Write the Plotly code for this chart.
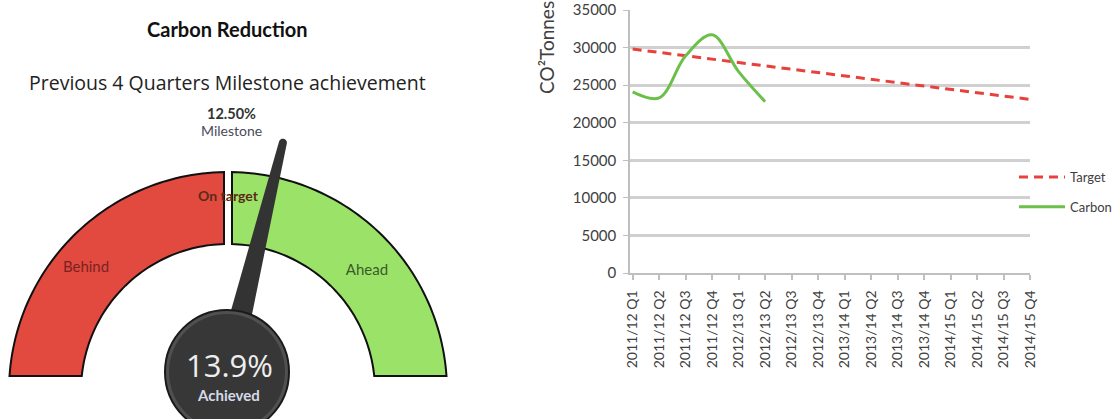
import math
import plotly.graph_objects as go

# ---------------- data ----------------
quarters = ["2011/12 Q1", "2011/12 Q2", "2011/12 Q3", "2011/12 Q4",
            "2012/13 Q1", "2012/13 Q2", "2012/13 Q3", "2012/13 Q4",
            "2013/14 Q1", "2013/14 Q2", "2013/14 Q3", "2013/14 Q4",
            "2014/15 Q1", "2014/15 Q2", "2014/15 Q3", "2014/15 Q4"]
target = [29800, 29350, 28900, 28450, 28000, 27550, 27100, 26650,
          26200, 25750, 25300, 24850, 24400, 23950, 23500, 23100]
carbon = [24100, 23300, 28900, 31700, 26800, 22800]
y_ticks = [0, 5000, 10000, 15000, 20000, 25000, 30000, 35000]

milestone_pct = 12.50
achieved_pct = 13.9
gauge_labels = ["Behind", "On target", "Ahead"]

# ---------------- style / layout constants ----------------
W, H = 1116, 419
FONT = "Lato"
GAUGE_HALF_SPAN = 9.2          # % difference mapped to 90 degrees of needle sweep
CX, CY = 228, 391              # arc centre (pixel units of the gauge panel)
R_OUT, R_IN = 219, 147
BASE_Y = 376
PIVOT = (227, 372)
HUB_R = 62
NEEDLE_LEN = 236

fig = go.Figure()

# ---------------- line chart ----------------
fig.add_trace(go.Scatter(
    x=quarters, y=target, mode="lines", name="Target",
    legendgroup="t",
    line=dict(color="#e8413c", width=3, dash="9px,6px"),
    xaxis="x", yaxis="y"))
fig.add_trace(go.Scatter(
    x=quarters[:len(carbon)], y=carbon, mode="lines", name="Carbon",
    legendgroup="c",
    line=dict(color="#6cc04a", width=3, shape="spline", smoothing=1.0),
    xaxis="x", yaxis="y"))

# ---------------- gauge helpers ----------------
def arc_pts(r, a0, a1, n=60):
    pts = []
    for i in range(n + 1):
        a = a0 + (a1 - a0) * i / n
        pts.append((CX + r * math.cos(a), CY - r * math.sin(a)))
    return pts

def seg_path(x_edge, left):
    if left:
        ao0 = math.pi - math.asin((CY - BASE_Y) / R_OUT)
        ai0 = math.pi - math.asin((CY - BASE_Y) / R_IN)
    else:
        ao0 = math.asin((CY - BASE_Y) / R_OUT)
        ai0 = math.asin((CY - BASE_Y) / R_IN)
    ao1 = math.acos((x_edge - CX) / R_OUT)
    ai1 = math.acos((x_edge - CX) / R_IN)
    pts = arc_pts(R_OUT, ao0, ao1) + arc_pts(R_IN, ai1, ai0)
    return "M " + " L ".join(f"{x:.2f},{y:.2f}" for x, y in pts) + " Z"

shapes = []
shapes.append(dict(type="path", xref="x2", yref="y2", layer="below",
                   path=seg_path(224, True), fillcolor="#e24a3f",
                   line=dict(color="#111111", width=2)))
shapes.append(dict(type="path", xref="x2", yref="y2", layer="below",
                   path=seg_path(232, False), fillcolor="#9be368",
                   line=dict(color="#111111", width=2)))

# needle, angle derived from achieved vs milestone
ang = math.radians((achieved_pct - milestone_pct) / GAUGE_HALF_SPAN * 90.0)
dx, dy = math.sin(ang), -math.cos(ang)
px, py = math.cos(ang), math.sin(ang)
bx, by = PIVOT
tx, ty = bx + NEEDLE_LEN * dx, by + NEEDLE_LEN * dy
wb, wt = 13, 4
npts = [(bx - wb * px, by - wb * py), (tx - wt * px, ty - wt * py)]
for i in range(1, 12):
    a = math.pi * i / 12
    npts.append((tx - wt * math.cos(a) * px + wt * math.sin(a) * dx,
                 ty - wt * math.cos(a) * py + wt * math.sin(a) * dy))
npts += [(tx + wt * px, ty + wt * py), (bx + wb * px, by + wb * py)]
shapes.append(dict(type="path", xref="x2", yref="y2", layer="above",
                   path="M " + " L ".join(f"{x:.2f},{y:.2f}" for x, y in npts) + " Z",
                   fillcolor="#333333", line=dict(width=0)))
# hub
shapes.append(dict(type="circle", xref="x2", yref="y2", layer="above",
                   x0=bx - HUB_R, x1=bx + HUB_R, y0=by - HUB_R, y1=by + HUB_R,
                   fillcolor="#505050", line=dict(color="#1a1a1a", width=2)))
shapes.append(dict(type="circle", xref="x2", yref="y2", layer="above",
                   x0=bx - HUB_R + 4, x1=bx + HUB_R - 4, y0=by - HUB_R + 4, y1=by + HUB_R - 4,
                   fillcolor="#373737", line=dict(width=0)))

# gauge segment labels (as a text trace so the needle sits on top)
fig.add_trace(go.Scatter(
    x=[86, 228, 367], y=[268, 197, 271], mode="text",
    text=["Behind", "<b>On target</b>", "Ahead"],
    textfont=dict(family=FONT, size=[15, 14, 15], color=["#7a2222", "#5a2a18", "#3c5a2c"]),
    showlegend=False, hoverinfo="skip", xaxis="x2", yaxis="y2"))

annotations = [
    dict(x=227, y=29, xref="x2", yref="y2", text="<b>Carbon Reduction</b>", showarrow=False,
         font=dict(family=FONT, size=20, color="#111111"), xanchor="center", yanchor="middle"),
    dict(x=227, y=82, xref="x2", yref="y2", text="Previous 4 Quarters Milestone achievement",
         showarrow=False, font=dict(family="Open Sans", size=19.5, color="#222222"),
         xanchor="center", yanchor="middle"),
    dict(x=231, y=113, xref="x2", yref="y2", text=f"<b>{milestone_pct:.2f}%</b>", showarrow=False,
         font=dict(family=FONT, size=14.5, color="#333333"), xanchor="center", yanchor="middle"),
    dict(x=231, y=130, xref="x2", yref="y2", text="Milestone", showarrow=False,
         font=dict(family=FONT, size=14, color="#4a4a5a"), xanchor="center", yanchor="middle"),
    dict(x=229, y=365, xref="x2", yref="y2", text=f"{achieved_pct:.1f}%", showarrow=False,
         font=dict(family="Open Sans", size=31, color="#eeeeee"), xanchor="center", yanchor="middle"),
    dict(x=228, y=395, xref="x2", yref="y2", text="<b>Achieved</b>", showarrow=False,
         font=dict(family=FONT, size=15, color="#d4dae8"), xanchor="center", yanchor="middle"),
    dict(x=546, y=48, xref="x2", yref="y2", text="CO²Tonnes", showarrow=False, textangle=-90,
         font=dict(family=FONT, size=19, color="#404040"), xanchor="center", yanchor="middle"),
]

fig.update_layout(
    width=W, height=H,
    margin=dict(l=0, r=0, t=0, b=0, pad=0, autoexpand=False),
    paper_bgcolor="white", plot_bgcolor="white",
    shapes=shapes, annotations=annotations,
    showlegend=True,
    legend=dict(x=1014 / W, y=1 - 162 / H, xanchor="left", yanchor="top",
                font=dict(family=FONT, size=13, color="#404040"),
                traceorder="grouped", tracegroupgap=10, itemwidth=46,
                bgcolor="rgba(0,0,0,0)"),
    xaxis=dict(domain=[630 / W, 1030 / W], type="category", range=[-0.1, 15],
               showgrid=False, showline=True, linecolor="#bfbfbf", linewidth=1.5,
               ticks="outside", ticklen=5, tickcolor="#bfbfbf", tickwidth=1.5,
               tickangle=-90, tickfont=dict(family=FONT, size=14, color="#404040"),
               ticklabelstandoff=5,
               zeroline=False, fixedrange=True, anchor="y", automargin=False),
    yaxis=dict(domain=[1 - 273 / H, 1 - 10 / H], range=[0, 35000],
               tickvals=y_ticks, tickformat="d", showgrid=True, gridcolor="#d0d0d0", gridwidth=2.5,
               showline=True, linecolor="#bfbfbf", linewidth=1.5,
               ticks="outside", ticklen=5, tickcolor="#bfbfbf",
               tickfont=dict(family=FONT, size=15, color="#404040"),
               ticklabelstandoff=4,
               zeroline=False, fixedrange=True, anchor="x", automargin=False),
    xaxis2=dict(domain=[0, 600 / W], range=[0, 600], visible=False, fixedrange=True,
                anchor="y2", automargin=False),
    yaxis2=dict(domain=[0, 1], range=[H, 0], visible=False, fixedrange=True,
                anchor="x2", automargin=False),
)

fig.write_html("out.html")
